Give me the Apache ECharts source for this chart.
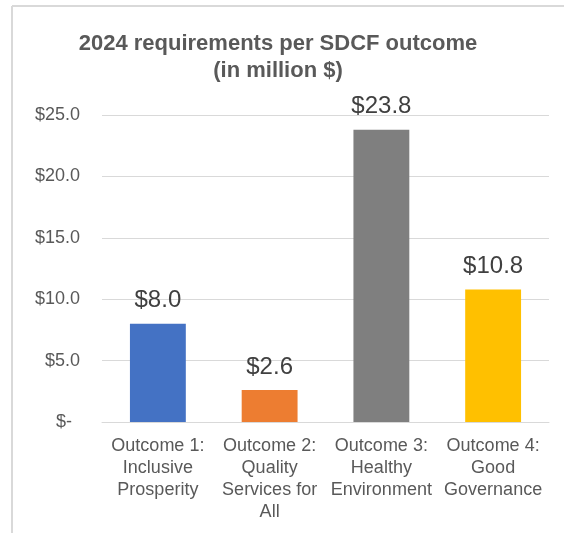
<!DOCTYPE html>
<html>
<head>
    <meta charset="UTF-8">
    <title>SDCF outcome</title>
    <script type="text/javascript" src="https://cdn.jsdelivr.net/npm/echarts@6/dist/echarts.min.js"></script>
</head>
<style>
    body { margin: 0; background: #fff; }
    .main { width: 564px; height: 533px; }
</style>
<body>
<div id="charts" class="main"></div>
<script type="text/javascript">
    var categories = ['Outcome 1:\nInclusive\nProsperity', 'Outcome 2:\nQuality\nServices for\nAll', 'Outcome 3:\nHealthy\nEnvironment', 'Outcome 4:\nGood\nGovernance'];
    var values = [8.0, 2.6, 23.8, 10.8];
    var barColors = ['#4472C4', '#ED7D31', '#7F7F7F', '#FFC000'];
    var yTicks = [0, 5, 10, 15, 20, 25];

    var font = 'Arial, "Liberation Sans", sans-serif';
    var myChart = echarts.init(document.getElementById('charts'));
    var option = {
        animation: false,
        title: {
            text: '2024 requirements per SDCF outcome\n(in million $)',
            left: 273,
            top: 25,
            textAlign: 'center',
            textStyle: {
                fontFamily: font,
                fontSize: 22,
                fontWeight: 'bold',
                color: '#595959',
                lineHeight: 27
            }
        },
        graphic: [
            { type: 'line', shape: { x1: 12, y1: 6, x2: 564, y2: 6 }, style: { stroke: '#d9d9d9', lineWidth: 2 } },
            { type: 'line', shape: { x1: 12, y1: 6, x2: 12, y2: 533 }, style: { stroke: '#d9d9d9', lineWidth: 2 } }
        ],
        grid: { left: 102, right: 15, top: 115, bottom: 111 },
        xAxis: {
            type: 'category',
            data: categories,
            axisLine: { lineStyle: { color: '#d9d9d9', width: 1 } },
            axisTick: { show: false },
            axisLabel: {
                interval: 0,
                margin: 13,
                fontFamily: font,
                fontSize: 18,
                lineHeight: 22,
                color: '#595959'
            }
        },
        yAxis: {
            type: 'value',
            min: 0,
            max: 25,
            interval: 5,
            axisLine: { show: false },
            axisTick: { show: false },
            splitLine: { lineStyle: { color: '#d9d9d9', width: 1 } },
            axisLabel: {
                margin: 22,
                fontFamily: font,
                fontSize: 18,
                color: '#595959',
                formatter: function (v) {
                    if (v === yTicks[0]) return '{z|$-}';
                    return '$' + v.toFixed(1);
                },
                rich: { z: { fontFamily: font, fontSize: 18, color: '#595959', padding: [0, 8, 0, 0] } }
            }
        },
        series: [{
            type: 'bar',
            barWidth: '50%',
            data: values.map(function (v, i) {
                return { value: v, itemStyle: { color: barColors[i] } };
            }),
            label: {
                show: true,
                position: 'top',
                distance: 11,
                fontFamily: font,
                fontSize: 24,
                color: '#404040',
                formatter: function (p) { return '$' + p.value.toFixed(1); }
            }
        }]
    };
    myChart.setOption(option);
</script>
</body>
</html>
